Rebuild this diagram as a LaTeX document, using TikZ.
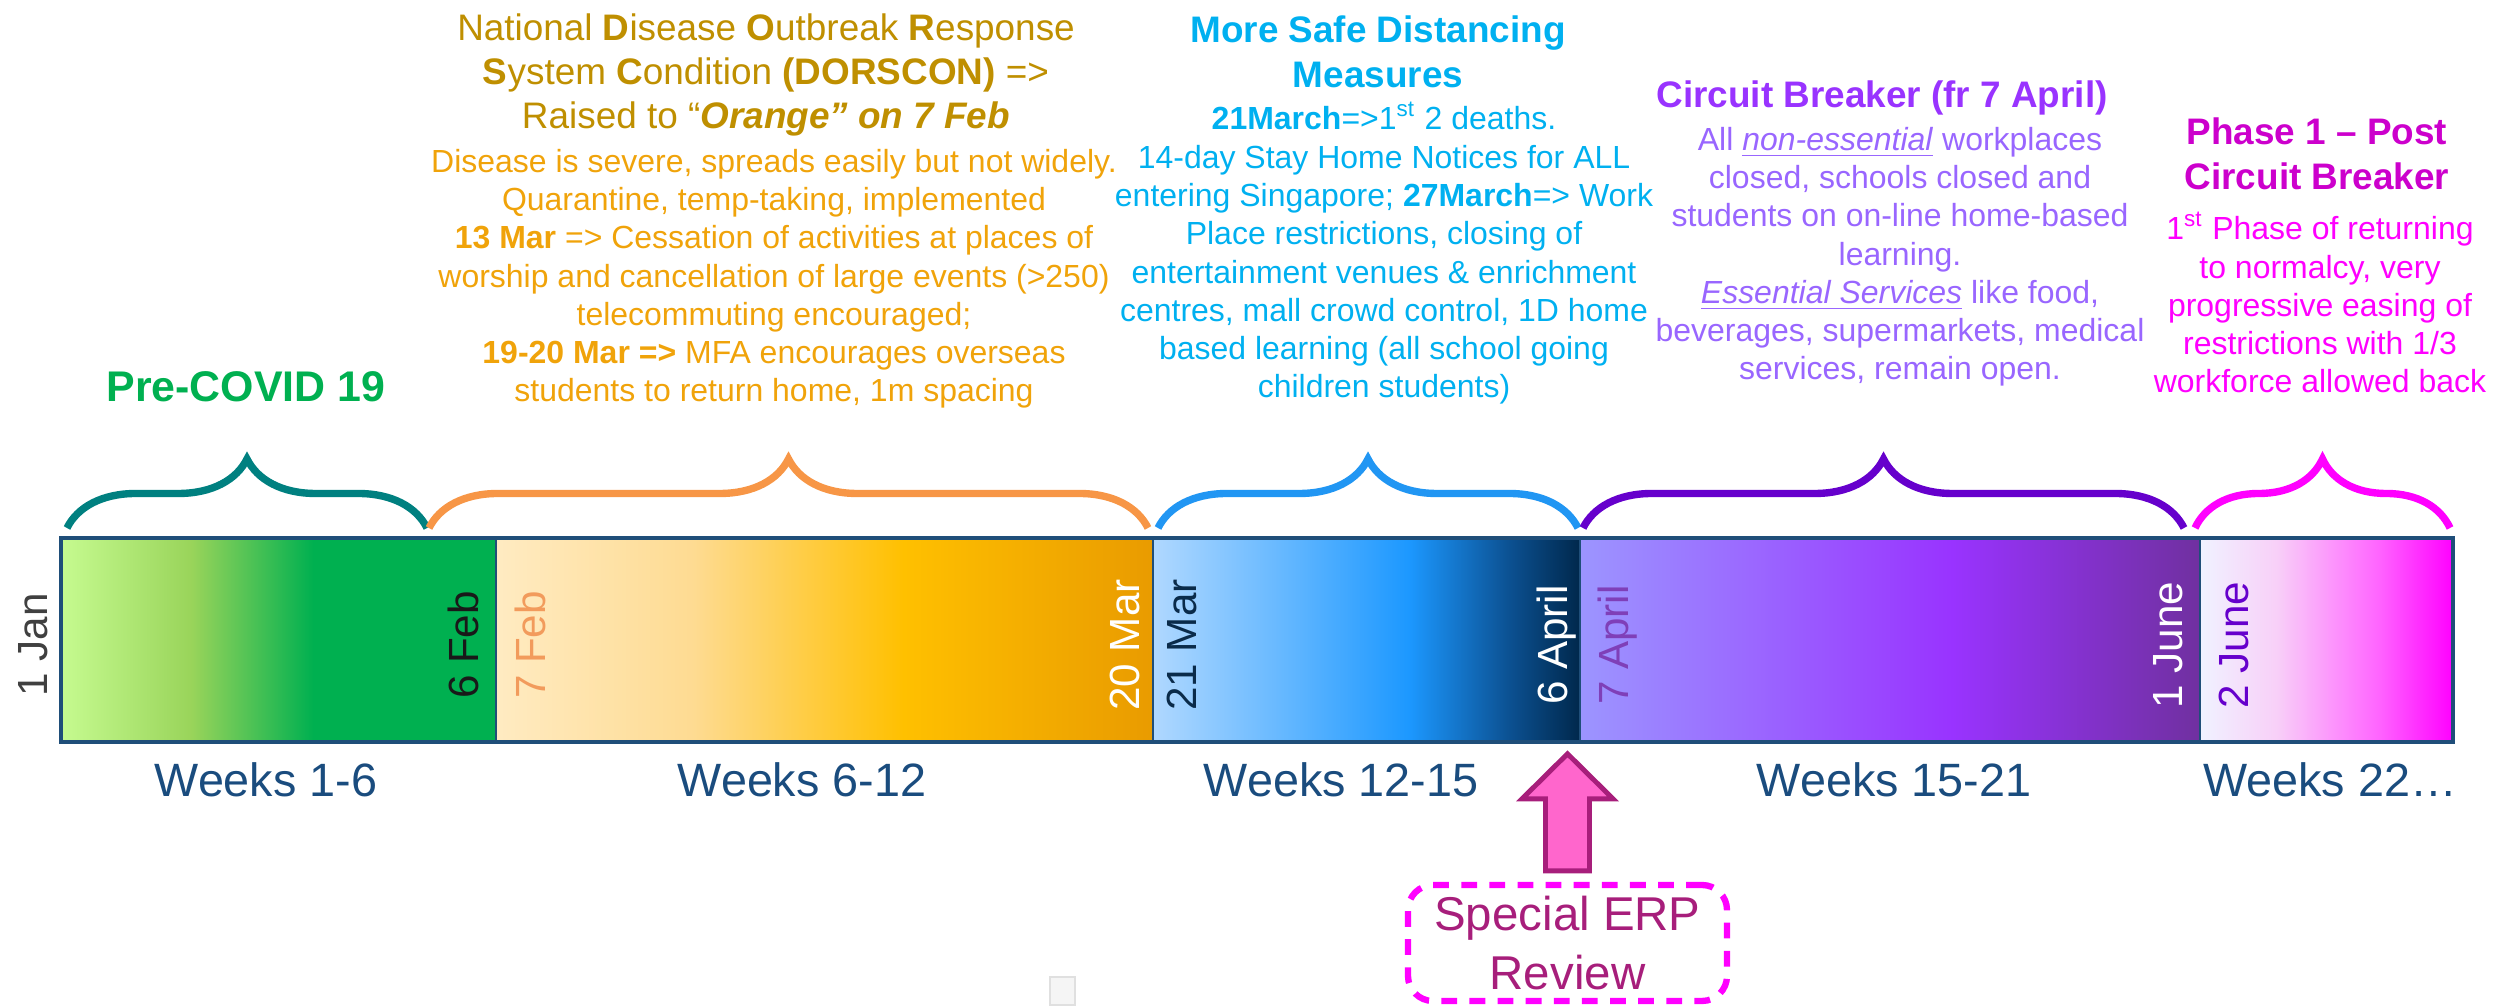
\documentclass[tikz,border=0pt]{standalone}
\usepackage{fontspec}
\setmainfont{Liberation Sans}
\usetikzlibrary{positioning,decorations.pathreplacing}

\definecolor{barline}{HTML}{1F4E79}
\definecolor{wkblue}{HTML}{1A4C7E}
\definecolor{gA}{HTML}{C6FB90}
\definecolor{gB}{HTML}{99D45A}
\definecolor{gC}{HTML}{00B050}
\definecolor{oA}{HTML}{FFEBC2}
\definecolor{oB}{HTML}{FEDB92}
\definecolor{oC}{HTML}{FFC000}
\definecolor{oD}{HTML}{E99B00}
\definecolor{bA}{HTML}{B0D8FF}
\definecolor{bB}{HTML}{1C98FF}
\definecolor{bC}{HTML}{0B4F8F}
\definecolor{bD}{HTML}{00284C}
\definecolor{pA}{HTML}{9C95FF}
\definecolor{pB}{HTML}{9933FF}
\definecolor{pC}{HTML}{7030A0}
\definecolor{mA}{HTML}{F0F2FF}
\definecolor{mB}{HTML}{F8D0F8}
\definecolor{mC}{HTML}{FF66FF}
\definecolor{mD}{HTML}{FF00FF}
\definecolor{teal}{HTML}{008080}
\definecolor{orng}{HTML}{F79646}
\definecolor{gold}{HTML}{BF8F00}
\definecolor{amber}{HTML}{F0A30A}
\definecolor{sky}{HTML}{00B0F0}
\definecolor{skybrace}{HTML}{2196F3}
\definecolor{violet}{HTML}{9933FF}
\definecolor{lilac}{HTML}{9966FF}
\definecolor{indigo}{HTML}{6600CC}
\definecolor{mag}{HTML}{FF00FF}
\definecolor{darkmag}{HTML}{CC00CC}
\definecolor{erptext}{HTML}{A71E7B}
\definecolor{erpfill}{HTML}{FF66CC}

\pgfdeclarehorizontalshading{greenbar}{100bp}{color(0bp)=(gA); color(25bp)=(gA); color(40bp)=(gB); color(54bp)=(gC); color(100bp)=(gC)}
\pgfdeclarehorizontalshading{orangebar}{100bp}{color(0bp)=(oA); color(25bp)=(oA); color(40bp)=(oB); color(56bp)=(oC); color(75bp)=(oD); color(100bp)=(oD)}
\pgfdeclarehorizontalshading{bluebar}{100bp}{color(0bp)=(bA); color(25bp)=(bA); color(55bp)=(bB); color(67bp)=(bC); color(75bp)=(bD); color(100bp)=(bD)}
\pgfdeclarehorizontalshading{purplebar}{100bp}{color(0bp)=(pA); color(25bp)=(pA); color(55bp)=(pB); color(75bp)=(pC); color(100bp)=(pC)}
\pgfdeclarehorizontalshading{pinkbar}{100bp}{color(0bp)=(mA); color(25bp)=(mA); color(40bp)=(mB); color(60bp)=(mC); color(75bp)=(mD); color(100bp)=(mD)}

\tikzset{
  seg/.style={shade, draw=barline, line width=0.4pt, inner sep=0pt, outer sep=0pt,
    minimum height=2.04cm, anchor=south west},
  datelbl/.style={font=\fontsize{12}{14}\selectfont, rotate=90, anchor=base, inner sep=0pt},
  wk/.style={font=\fontsize{13.3}{16}\selectfont, text=wkblue, anchor=base, inner sep=0pt},
  hd/.style={font=\fontsize{10.5}{12.6}\selectfont, align=center, anchor=base, inner sep=0pt},
  bd/.style={font=\fontsize{9.1}{10.9}\selectfont, align=center, anchor=base, inner sep=0pt},
  brc/.style={decorate, decoration={brace, amplitude=0.69cm}, line width=2.1pt},
}

\begin{document}
\begin{tikzpicture}
\useasboundingbox (0,0) rectangle (24.94,10.08);

% timeline bar
\node[seg, shading=greenbar, minimum width=4.35cm] (pre) at (0.61,2.66) {};
\node[seg, shading=orangebar, minimum width=6.57cm, right=0pt of pre] (dorscon) {};
\node[seg, shading=bluebar, minimum width=4.27cm, right=0pt of dorscon] (sdm) {};
\node[seg, shading=purplebar, minimum width=6.20cm, right=0pt of sdm] (cb) {};
\node[seg, shading=pinkbar, minimum width=2.53cm, right=0pt of cb] (ph1) {};
\draw[barline, line width=0.9pt] (pre.south west) rectangle (ph1.north east);

% dates
\node[datelbl, text=black!75] (jan1) at (0.48,3.63) {1 Jan};
\node[datelbl, text=black!90] (feb6) at (4.78,3.63) {6 Feb};
\node[datelbl, text={rgb,255:red,242;green,155;blue,92}] (feb7) at (5.45,3.63) {7 Feb};
\node[datelbl, text=white] (mar20) at (11.39,3.63) {20 Mar};
\node[datelbl, text={rgb,255:red,10;green,43;blue,74}] (mar21) at (11.96,3.63) {21 Mar};
\node[datelbl, text=white] (apr6) at (15.67,3.63) {6 April};
\node[datelbl, text={rgb,255:red,127;green,63;blue,184}] (apr7) at (16.28,3.63) {7 April};
\node[datelbl, text=white] (jun1) at (21.82,3.63) {1 June};
\node[datelbl, text=indigo] (jun2) at (22.48,3.63) {2 June};

% weeks
\node[wk] (wk1) at (2.66,2.11) {Weeks 1-6};
\node[wk] (wk2) at (8.02,2.11) {Weeks 6-12};
\node[wk] (wk3) at (13.41,2.11) {Weeks 12-15};
\node[wk] (wk4) at (18.94,2.11) {Weeks 15-21};
\node[wk] (wk5) at (23.30,2.11) {Weeks 22…};

% braces
\draw[brc, teal] (0.67,4.80) -- (4.27,4.80);
\draw[brc, orng] (4.29,4.80) -- (11.48,4.80);
\draw[brc, skybrace] (11.58,4.80) -- (15.78,4.80);
\draw[brc, indigo] (15.83,4.80) -- (21.84,4.80);
\draw[brc, mag] (21.95,4.80) -- (24.50,4.80);

% phase texts (placed at the baseline of their last line)
\node[hd, font=\fontsize{12.2}{14}\selectfont\bfseries, text=gC] (pretxt) at (2.46,6.06) {Pre-COVID 19};

\node[hd, text=gold] (dorhd) at (7.66,8.79) {National \textbf{D}isease \textbf{O}utbreak \textbf{R}esponse\\
  \textbf{S}ystem \textbf{C}ondition \textbf{(DORSCON)} =>\\
  Raised to “\textbf{\textit{Orange” on 7 Feb}}};
\node[bd, text=amber] (dorbd) at (7.74,6.06) {Disease is severe, spreads easily but not widely.\\
  Quarantine, temp-taking, implemented\\
  \textbf{13 Mar} => Cessation of activities at places of\\
  worship and cancellation of large events (>250)\\
  telecommuting encouraged;\\
  \textbf{19-20 Mar =>} MFA encourages overseas\\
  students to return home, 1m spacing};

\node[hd, font=\fontsize{10.5}{12.8}\selectfont\bfseries, text=sky] (sdmhd) at (13.78,9.20) {More Safe Distancing\\ Measures};
\node[bd, text=sky] (sdmbd) at (13.84,6.10) {\textbf{21March}=>1\textsuperscript{st} 2 deaths.\\
  14-day Stay Home Notices for ALL\\
  entering Singapore; \textbf{27March}=> Work\\
  Place restrictions, closing of\\
  entertainment venues \& enrichment\\
  centres, mall crowd control, 1D home\\
  based learning (all school going\\
  children students)};

\node[hd, font=\fontsize{10.5}{12.8}\selectfont\bfseries, text=violet] (cbhd) at (18.82,9.00) {Circuit Breaker (fr 7 April)};
\node[bd, text=lilac] (cbbd) at (19.00,6.28) {All \underline{\textit{non-essential}} workplaces\\
  closed, schools closed and\\
  students on on-line home-based\\
  learning.\\
  \underline{\textit{Essential Services}} like food,\\
  beverages, supermarkets, medical\\
  services, remain open.};

\node[hd, font=\fontsize{10.5}{12.8}\selectfont\bfseries, text=darkmag] (ph1hd) at (23.17,8.18) {Phase 1 – Post\\ Circuit Breaker};
\node[bd, text=mag] (ph1bd) at (23.20,6.15) {1\textsuperscript{st} Phase of returning\\
  to normalcy, very\\
  progressive easing of\\
  restrictions with 1/3\\
  workforce allowed back};

% ERP review
\node[draw=mag, dashed, dash pattern=on 4.5pt off 3.5pt, line width=1.8pt, rounded corners=0.25cm,
  minimum width=3.19cm, minimum height=1.16cm, inner sep=0pt, text=erptext, align=center,
  font=\fontsize{13.5}{16.8}\selectfont] (erp) at (15.675,0.65) {Special ERP\\ Review};
\draw[fill=erpfill, draw=erptext, line width=1.4pt]
  ([xshift=-0.22cm,yshift=0.11cm]erp.north) -- ++(0,0.72) -- ++(-0.235,0) -- ++(0.455,0.45)
  -- ++(0.455,-0.45) -- ++(-0.235,0) -- ++(0,-0.72) -- cycle;

% faded icon
\draw[black!12, fill=black!4] (10.50,0.03) rectangle (10.75,0.31);
\end{tikzpicture}
\end{document}
